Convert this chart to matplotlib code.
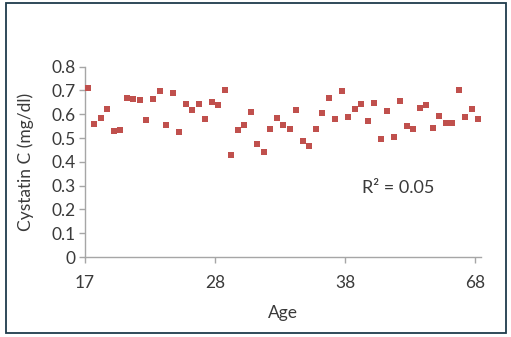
import numpy as np
import matplotlib
matplotlib.use('Agg')
import matplotlib.pyplot as plt
from matplotlib.patches import Rectangle

# cystatin C values, one per subject, in the order drawn (ages on a category axis)
cystatin = [0.711, 0.561, 0.584, 0.624, 0.529, 0.533, 0.667, 0.665, 0.658, 0.575,
            0.665, 0.698, 0.557, 0.690, 0.524, 0.644, 0.617, 0.644, 0.579, 0.653,
            0.641, 0.702, 0.427, 0.533, 0.556, 0.610, 0.477, 0.440, 0.537, 0.584,
            0.556, 0.540, 0.619, 0.489, 0.468, 0.539, 0.606, 0.667, 0.582, 0.699,
            0.589, 0.621, 0.642, 0.571, 0.648, 0.497, 0.612, 0.503, 0.655, 0.552,
            0.537, 0.628, 0.637, 0.542, 0.592, 0.564, 0.564, 0.702, 0.589, 0.624,
            0.579]
tick_idx = [0, 20, 40, 60]
tick_labels = ['17', '28', '38', '68']
r2_text = 'R\u00b2 = 0.05'

plt.rcParams['font.family'] = ['Lato', 'DejaVu Sans']
txt = '#3a3a3a'
axis_col = '#a6a6a6'
fs = 12.5

fig = plt.figure(figsize=(5.11, 3.37), dpi=100)
fig.patches.append(Rectangle((6 / 511, 1 - 333 / 337), 500 / 511, 330 / 337,
                             transform=fig.transFigure, fill=False,
                             edgecolor='#1f3c4c', linewidth=1.3))

ax = fig.add_axes([85 / 511, 1 - 257 / 337, 396 / 511, 190.3 / 337])
x = np.arange(len(cystatin))
ax.scatter(x, cystatin, marker='s', s=22, color='#c0504d', linewidths=0, zorder=3)

ax.set_xlim(-0.35, 60.4)
ax.set_ylim(0, 0.8)
ax.set_yticks(np.arange(0, 0.81, 0.1))
ax.set_yticklabels(['0'] + ['%.1f' % v for v in np.arange(0.1, 0.81, 0.1)])
ax.set_xticks(np.array(tick_idx) - 0.45)
ax.set_xticklabels(tick_labels)

for s in ['top', 'right']:
    ax.spines[s].set_visible(False)
for s in ['left', 'bottom']:
    ax.spines[s].set_color(axis_col)
    ax.spines[s].set_linewidth(1.0)
ax.tick_params(axis='both', colors=axis_col, labelcolor=txt, labelsize=fs,
               length=4, width=1.0, direction='out')
ax.tick_params(axis='x', pad=9)
ax.tick_params(axis='y', pad=3)

ax.set_xlabel('Age', fontsize=fs, color=txt, labelpad=10)
ax.set_ylabel('Cystatin C (mg/dl)', fontsize=fs, color=txt, labelpad=12)

# R squared annotation, placed in pixel coordinates of the figure
ax.text(398 / 511, 1 - 188 / 337, r2_text, transform=fig.transFigure,
        fontsize=13, color=txt, ha='center', va='center')

plt.savefig('out.png', dpi=100)
